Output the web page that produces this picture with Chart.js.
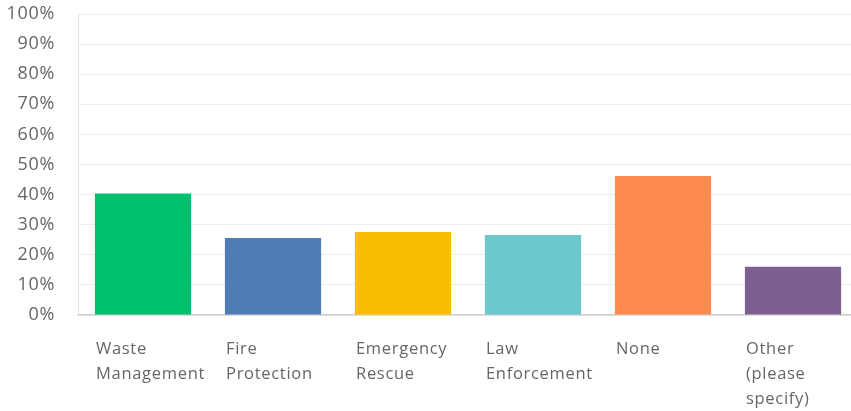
<!DOCTYPE html>
<html>
<head>
<meta charset="utf-8">
<script src="https://cdn.jsdelivr.net/npm/chart.js@4/dist/chart.umd.min.js"></script>
<style>
	html, body { margin: 0; padding: 0; background: #fff; overflow: hidden; }
	.wrap { width: 858px; height: 411px; }
</style>
</head>
<body>
<div class="wrap"><canvas id="bar-area"></canvas></div>
<script>
var categories = [
	['Waste', 'Management'],
	['Fire', 'Protection'],
	['Emergency', 'Rescue'],
	['Law', 'Enforcement'],
	['None'],
	['Other', '(please', 'specify)']
];
var values = [40.4, 25.6, 27.6, 26.6, 46.2, 16.0];
var barColors = ['#00BF6F', '#507CB6', '#F9BE00', '#6BC8CD', '#FF8B4F', '#7D5E90'];
var yTicks = [0, 10, 20, 30, 40, 50, 60, 70, 80, 90, 100];

// wider letters like the original font
var spacingPlugin = {
	id: 'spacing',
	beforeDraw: function(chart) { chart.ctx.letterSpacing = '0.7px'; }
};

var config_bar = {
	type: 'bar',
	data: {
		labels: categories,
		datasets: [{
			data: values,
			backgroundColor: barColors,
			barPercentage: 0.74,
			categoryPercentage: 1
		}]
	},
	options: {
		responsive: true,
		maintainAspectRatio: false,
		animation: false,
		layout: { padding: { top: 14, right: 0, bottom: 0, left: 0 } },
		plugins: { legend: { display: false }, tooltip: { enabled: false } },
		scales: {
			x: {
				grid: { display: false, drawTicks: false },
				border: { color: '#cfcfcf', width: 1.5 },
				ticks: {
					align: 'start',
					labelOffset: -47,
					padding: 22,
					maxRotation: 0,
					autoSkip: false,
					color: '#666',
					font: { family: 'Open Sans', size: 16.5, lineHeight: 1.52 }
				},
				afterFit: function(scale) {
					scale.height = 96;
					scale.paddingLeft = 0;
					scale.paddingRight = 0;
				}
			},
			y: {
				min: 0,
				max: 100,
				afterBuildTicks: function(scale) {
					scale.ticks = yTicks.map(function(v) { return { value: v }; });
				},
				grid: { color: '#ececec', drawTicks: false },
				border: { color: '#e3e3e3' },
				ticks: {
					padding: 23,
					color: '#666',
					font: { family: 'Open Sans', size: 18 },
					callback: function(v) { return v + '%'; }
				},
				afterFit: function(scale) {
					scale.width = 78;
					scale.paddingTop = 0;
					scale.paddingBottom = 0;
				}
			}
		}
	},
	plugins: [spacingPlugin]
};

window.onload = function() {
	var ctx = document.getElementById('bar-area').getContext('2d');
	window.myBar = new Chart(ctx, config_bar);
};
</script>
</body>
</html>
